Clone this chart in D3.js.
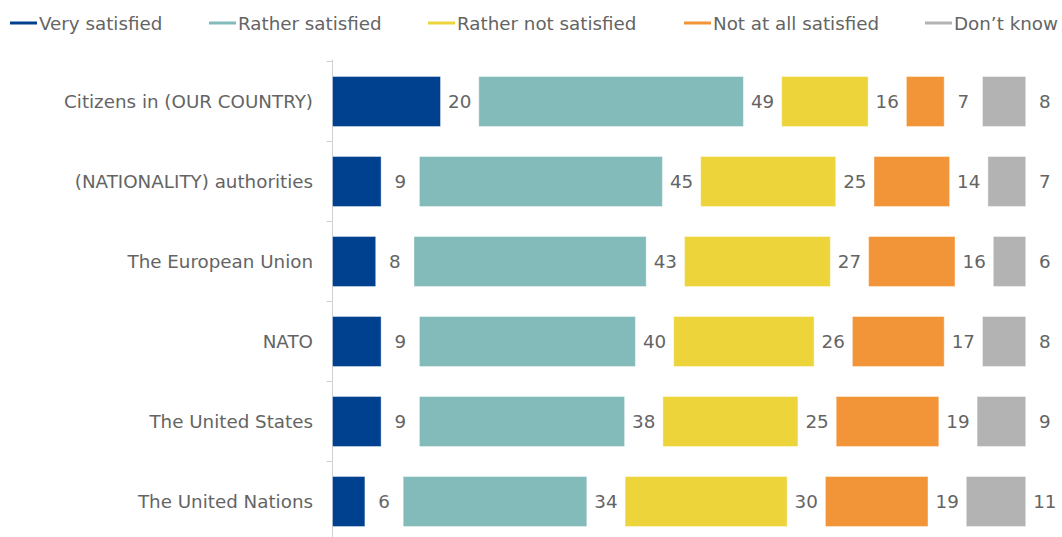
<!DOCTYPE html>
<html>
<head>
<meta charset="utf-8">
<script src="https://cdn.jsdelivr.net/npm/d3@7"></script>
<style>
  html, body { margin: 0; padding: 0; background: #fff; }
  svg { display: block; }
  text { font-family: "DejaVu Sans", Verdana, sans-serif; fill: #646464; }
</style>
</head>
<body>
<svg id="chart" width="1062" height="537"></svg>
<script>
const categories = [
  "Citizens in (OUR COUNTRY)",
  "(NATIONALITY) authorities",
  "The European Union",
  "NATO",
  "The United States",
  "The United Nations"
];
const seriesNames = ["Very satisfied", "Rather satisfied", "Rather not satisfied", "Not at all satisfied", "Don\u2019t know"];
const verySatisfied      = [20, 9, 8, 9, 9, 6];
const ratherSatisfied    = [49, 45, 43, 40, 38, 34];
const ratherNotSatisfied = [16, 25, 27, 26, 25, 30];
const notAtAllSatisfied  = [7, 14, 16, 17, 19, 19];
const dontKnow           = [8, 7, 6, 8, 9, 11];
const colors = ["#00418F", "#83BBBB", "#ECD43A", "#F29539", "#B3B3B3"];

const seriesValues = [verySatisfied, ratherSatisfied, ratherNotSatisfied, notAtAllSatisfied, dontKnow];

const svg = d3.select("#chart");
const axisX = 332.5;
const plotTop = 61.5, bandH = 80;
const gap = 38.3;
const fs = "18.3px";

const y = d3.scaleBand().domain(categories).range([plotTop, plotTop + bandH * categories.length]).paddingInner(0.375).paddingOuter(0.1875);
const x = d3.scaleLinear().domain([0, 100]).range([0, 540]);

// axis
const gAxis = svg.append("g").attr("transform", `translate(${axisX},0)`);
gAxis.append("line").attr("x1", 0).attr("x2", 0).attr("y1", plotTop - 2).attr("y2", 537).attr("stroke", "#D0D0D0").attr("stroke-width", 1);
const tickYs = d3.range(categories.length + 1).map(i => plotTop + i * bandH);
gAxis.selectAll("line.tick").data(tickYs).join("line").attr("class", "tick")
  .attr("x1", -6).attr("x2", 0).attr("y1", d => d).attr("y2", d => d)
  .attr("stroke", "#D0D0D0").attr("stroke-width", 1);

// category labels
svg.append("g").selectAll("text").data(categories).join("text")
  .attr("x", 313).attr("y", d => y(d) + y.bandwidth() / 2)
  .attr("text-anchor", "end").attr("dominant-baseline", "central")
  .style("font-size", fs).text(d => d);

// bars
const rows = categories.map((c, i) => {
  let pos = axisX;
  return seriesValues.map((vals, s) => {
    const v = vals[i];
    const seg = { cat: c, s, v, x0: pos, w: x(v) };
    pos = pos + x(v) + gap;
    return seg;
  });
});
const segs = rows.flat();
const g = svg.append("g");
g.selectAll("rect").data(segs).join("rect")
  .attr("x", d => d.x0).attr("y", d => y(d.cat))
  .attr("width", d => d.w).attr("height", y.bandwidth())
  .attr("fill", d => colors[d.s])
  .attr("stroke", "#ffffff").attr("stroke-opacity", 0.4).attr("stroke-width", 1);
g.selectAll("text").data(segs).join("text")
  .attr("x", d => d.x0 + d.w + gap / 2).attr("y", d => y(d.cat) + y.bandwidth() / 2)
  .attr("text-anchor", "middle").attr("dominant-baseline", "central")
  .style("font-size", fs).text(d => d.v);

// legend
const legendX = [10, 209, 428, 684, 925];
const lg = svg.append("g");
seriesNames.forEach((n, i) => {
  lg.append("line").attr("x1", legendX[i]).attr("x2", legendX[i] + 27).attr("y1", 23).attr("y2", 23)
    .attr("stroke", colors[i]).attr("stroke-width", 3);
  lg.append("text").attr("x", legendX[i] + 29).attr("y", 23).attr("dominant-baseline", "central")
    .style("font-size", fs).text(n);
});
</script>
</body>
</html>
